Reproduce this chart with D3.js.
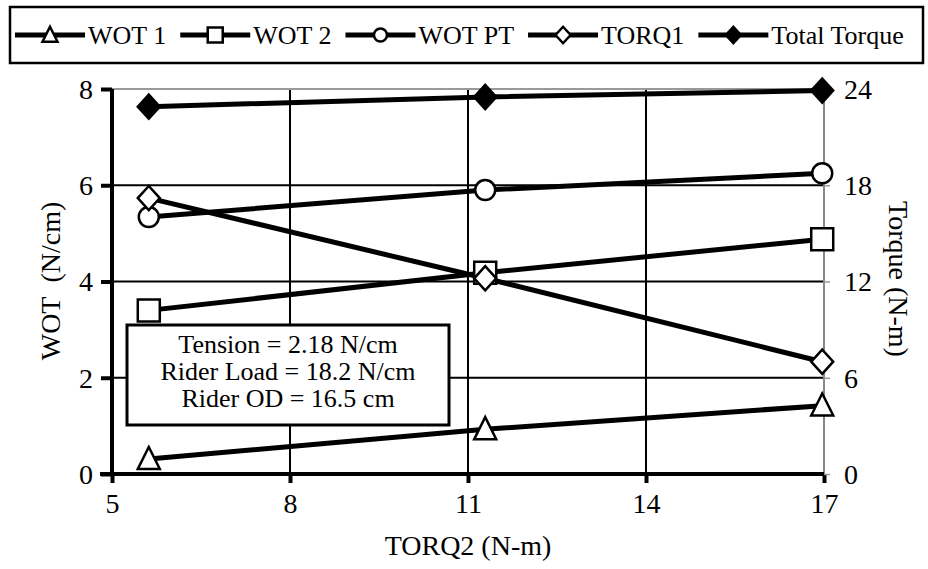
<!DOCTYPE html>
<html><head><meta charset="utf-8">
<script src="https://cdn.jsdelivr.net/npm/d3@7"></script>
<style>
html,body{margin:0;padding:0;background:#fff;}
</style></head>
<body><svg id="c" width="928" height="569"></svg>
<script>
// ---- data ----
const torq2 = [5.62, 11.29, 16.97];
const wot1 = [0.31, 0.93, 1.42];
const wot2 = [3.40, 4.18, 4.88];
const wotPT = [5.34, 5.90, 6.25];
const torq1 = [17.2, 12.2, 7.0];
const totalTorque = [22.9, 23.5, 23.9];
const xTicks = [5, 8, 11, 14, 17];
const yLeftTicks = [0, 2, 4, 6, 8];
const yRightTicks = [0, 6, 12, 18, 24];
const seriesNames = ["WOT 1", "WOT 2", "WOT PT", "TORQ1", "Total Torque"];
const note = ["Tension = 2.18 N/cm", "Rider Load = 18.2 N/cm", "Rider OD = 16.5 cm"];

const FONT = "'Liberation Serif', 'Times New Roman', Times, serif";
const svg = d3.select("#c");
const L = 112, R = 824, T = 89, B = 474;
const x = d3.scaleLinear().domain([5, 17]).range([L, R]);
const yL = d3.scaleLinear().domain([0, 8]).range([B, T]);
const yR = d3.scaleLinear().domain([0, 24]).range([B, T]);

// grid
const g = svg.append("g");
g.selectAll(".vg").data([8, 11, 14]).join("line")
  .attr("x1", d => x(d)).attr("x2", d => x(d)).attr("y1", T).attr("y2", B)
  .attr("stroke", "#000").attr("stroke-width", 2);
g.selectAll(".hg").data([2, 4, 6]).join("line")
  .attr("x1", L).attr("x2", R).attr("y1", d => yL(d)).attr("y2", d => yL(d))
  .attr("stroke", "#000").attr("stroke-width", 2);
g.append("line").attr("x1", L).attr("x2", R).attr("y1", T).attr("y2", T)
  .attr("stroke", "#999").attr("stroke-width", 2);
g.append("line").attr("x1", R).attr("x2", R).attr("y1", T).attr("y2", B)
  .attr("stroke", "#888").attr("stroke-width", 2);

// axes
const axL = svg.append("g").attr("transform", `translate(${L},0)`)
  .call(d3.axisLeft(yL).tickValues(yLeftTicks).tickSize(11).tickPadding(8).tickFormat(d3.format("d")));
axL.select(".domain").attr("stroke-width", 4).attr("d", `M0,${B+2}V${T}`);
axL.selectAll(".tick line").attr("stroke-width", 4);
axL.selectAll("text").attr("dy", "0.33em");

const axB = svg.append("g").attr("transform", `translate(0,${B})`)
  .call(d3.axisBottom(x).tickValues(xTicks).tickSize(9).tickPadding(10).tickFormat(d3.format("d")));
axB.select(".domain").attr("stroke-width", 4).attr("d", `M${L-12},0H${R}`);
axB.selectAll(".tick line").attr("stroke-width", 4);
axB.selectAll("text").attr("dy", "0.71em");

const axR = svg.append("g").attr("transform", `translate(${R},0)`)
  .call(d3.axisRight(yR).tickValues(yRightTicks).tickSize(6).tickPadding(14).tickFormat(d3.format("d")));
axR.select(".domain").remove();
axR.selectAll(".tick line").attr("stroke", "#999").attr("stroke-width", 1.5);
axR.selectAll("text").attr("dy", "0.33em");
[axL, axB, axR].forEach(a => a.attr("font-family", FONT).attr("font-size", 28)
  .selectAll("text").attr("font-family", FONT).attr("font-size", 28).attr("fill", "#000"));

// axis titles
svg.append("text").attr("transform", `translate(60,281) rotate(-90)`)
  .attr("text-anchor", "middle").attr("font-size", 28).attr("font-family", FONT)
  .style("white-space", "pre").text("WOT\u00a0\u00a0(N/cm)");
svg.append("text").attr("transform", `translate(889,279) rotate(90)`)
  .attr("text-anchor", "middle").attr("font-size", 28).attr("font-family", FONT).text("Torque (N-m)");
svg.append("text").attr("x", 468).attr("y", 555)
  .attr("text-anchor", "middle").attr("font-size", 28).attr("font-family", FONT).text("TORQ2 (N-m)");

// note box
svg.append("rect").attr("x", 127).attr("y", 325).attr("width", 322).attr("height", 100)
  .attr("fill", "#fff").attr("stroke", "#000").attr("stroke-width", 3);
svg.selectAll(".note").data(note).join("text")
  .attr("x", 288).attr("y", (d, i) => 353 + i * 27)
  .attr("text-anchor", "middle").attr("font-size", 26).attr("font-family", FONT).text(d => d);

// series
const series = [
  {name: seriesNames[0], vals: wot1, y: yL, sym: "tri", fill: "#fff"},
  {name: seriesNames[1], vals: wot2, y: yL, sym: "sq", fill: "#fff"},
  {name: seriesNames[2], vals: wotPT, y: yL, sym: "circ", fill: "#fff"},
  {name: seriesNames[3], vals: torq1, y: yR, sym: "dia", fill: "#fff"},
  {name: seriesNames[4], vals: totalTorque, y: yR, sym: "dia", fill: "#000"}
];
function symPath(sym, s) {
  if (sym === "tri") return `M0,${-s*0.55}L${s*0.5},${s*0.45}L${-s*0.5},${s*0.45}Z`;
  if (sym === "sq") return `M${-s/2},${-s/2}h${s}v${s}h${-s}Z`;
  if (sym === "dia") return `M0,${-s*0.55}L${s*0.5},0L0,${s*0.55}L${-s*0.5},0Z`;
  return null;
}
function drawSym(sel, sym, fill, s) {
  if (sym === "circ") {
    sel.append("circle").attr("r", s/2).attr("fill", fill).attr("stroke", "#000").attr("stroke-width", 2.5);
  } else {
    sel.append("path").attr("d", symPath(sym, s)).attr("fill", fill).attr("stroke", "#000")
      .attr("stroke-width", 2.5).attr("stroke-linejoin", "miter");
  }
}
const lineGen = yS => d3.line().x((d, i) => x(torq2[i])).y(d => yS(d));
series.forEach(s => {
  svg.append("path").datum(s.vals).attr("d", lineGen(s.y)).attr("fill", "none")
    .attr("stroke", "#000").attr("stroke-width", 5);
});
series.forEach(s => {
  s.vals.forEach((v, i) => {
    const m = svg.append("g").attr("transform", `translate(${x(torq2[i])},${s.y(v)})`);
    drawSym(m, s.sym, s.fill, s.sym === "circ" ? 20 : 22);
  });
});

// legend
svg.append("rect").attr("x", 10).attr("y", 7).attr("width", 913).attr("height", 56)
  .attr("fill", "#fff").attr("stroke", "#000").attr("stroke-width", 2.5);
let lx = 15;
const ly = 35;
series.forEach(s => {
  const lg = svg.append("g");
  lg.append("line").attr("x1", lx).attr("x2", lx + 70).attr("y1", ly).attr("y2", ly)
    .attr("stroke", "#000").attr("stroke-width", 5);
  const m = lg.append("g").attr("transform", `translate(${lx + 35},${ly})`);
  drawSym(m, s.sym, s.fill, s.sym === "circ" ? 13 : 15);
  const t = lg.append("text").attr("x", lx + 73).attr("y", ly + 9).attr("font-size", 26)
    .attr("font-family", FONT).text(s.name);
  lx += 73 + t.node().getComputedTextLength() + 14;
});
</script></body></html>
